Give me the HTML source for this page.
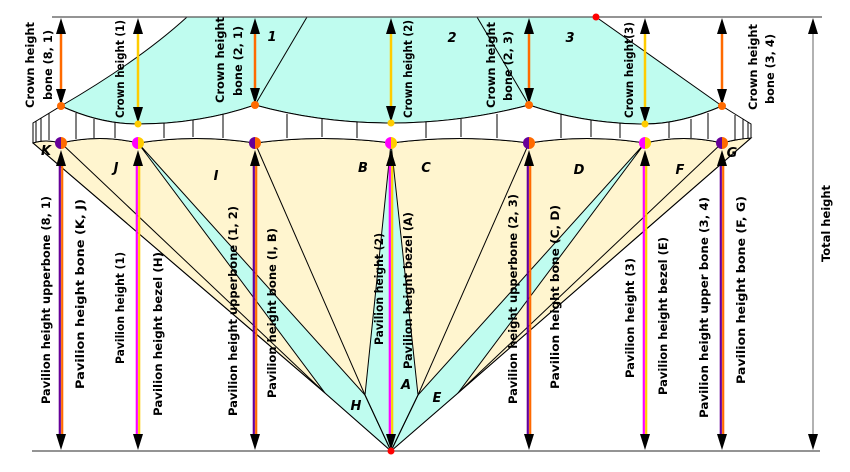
<!DOCTYPE html>
<html><head><meta charset="utf-8"><style>html,body{margin:0;padding:0;background:#fff}svg{display:block}</style></head>
<body>
<svg width="850" height="472" viewBox="0 0 850 472" xmlns="http://www.w3.org/2000/svg" font-family="DejaVu Sans, Liberation Sans, sans-serif">
<path d="M33,143 Q45,139 61,143 Q100,134 138,143 Q196,134 255,143 Q323,134 391,143 Q460,134 529,143 Q587,134 645,143 Q684,134 722,143 Q737,139 751,138 L458,393 L391,451 L325,393 Z" fill="#fff5cf" stroke="#000" stroke-width="1"/>
<path d="M138,143 L325,393 L391,451 L365,395 Z" fill="#bffcef" stroke="#000" stroke-width="1"/>
<path d="M645,143 L458,393 L391,451 L418,395 Z" fill="#bffcef" stroke="#000" stroke-width="1"/>
<path d="M391,143 L365,395 L391,451 L418,395 Z" fill="#bffcef" stroke="#000" stroke-width="1"/>
<g stroke="#000" stroke-width="1" fill="none">
<line x1="61" y1="143" x2="325" y2="393"/>
<line x1="33" y1="143" x2="325" y2="393"/>
<line x1="255" y1="143" x2="365" y2="395"/>
<line x1="529" y1="143" x2="418" y2="395"/>
<line x1="722" y1="143" x2="458" y2="393"/>
<line x1="751" y1="138" x2="458" y2="393"/>
<line x1="365" y1="395" x2="391" y2="451"/>
<line x1="418" y1="395" x2="391" y2="451"/>
</g>
<path d="M61,106 Q140,60 187,17 L596,17 L722,106 Q680,124 645,124 Q585,124 529,105 Q460,123 391,123 Q320,123 255,105 Q200,124 138,124 Q100,124 61,106 Z" fill="#bffcef" stroke="#000" stroke-width="1"/>
<line x1="255" y1="105" x2="307" y2="17" stroke="#000"/>
<line x1="529" y1="105" x2="477" y2="17" stroke="#000"/>
<path d="M61,106 Q100,124 138,124 Q200,124 255,105 Q320,123 391,123 Q460,123 529,105 Q585,124 645,124 Q680,124 722,106 L751,124 L751,138 Q737,139 722,143 Q684,134 645,143 Q587,134 529,143 Q460,134 391,143 Q323,134 255,143 Q196,134 138,143 Q100,134 61,143 Q45,139 33,143 L33,123 Z" fill="#fff" stroke="#000" stroke-width="1"/>
<g stroke="#000" stroke-width="1">
<line x1="36" y1="121" x2="36" y2="142"/><line x1="41" y1="118" x2="41" y2="141"/><line x1="49" y1="113" x2="49" y2="140"/>
<line x1="76" y1="113" x2="76" y2="139"/><line x1="94" y1="119" x2="94" y2="138"/><line x1="115" y1="122" x2="115" y2="138"/>
<line x1="164" y1="123" x2="164" y2="138"/><line x1="193" y1="120" x2="193" y2="137"/><line x1="223" y1="114" x2="223" y2="138"/>
<line x1="287" y1="114" x2="287" y2="138"/><line x1="322" y1="119" x2="322" y2="137"/><line x1="357" y1="122" x2="357" y2="138"/>
<line x1="426" y1="122" x2="426" y2="138"/><line x1="461" y1="119" x2="461" y2="137"/><line x1="497" y1="114" x2="497" y2="138"/>
<line x1="561" y1="114" x2="561" y2="138"/><line x1="591" y1="120" x2="591" y2="137"/><line x1="620" y1="123" x2="620" y2="138"/>
<line x1="669" y1="122" x2="669" y2="138"/><line x1="691" y1="119" x2="691" y2="138"/><line x1="708" y1="113" x2="708" y2="139"/>
<line x1="735" y1="115" x2="735" y2="140"/><line x1="743" y1="119" x2="743" y2="139"/><line x1="748" y1="122" x2="748" y2="138"/>
</g>
<line x1="52" y1="17" x2="822" y2="17" stroke="#555" stroke-width="1.3"/>
<line x1="32" y1="451" x2="820" y2="451" stroke="#555" stroke-width="1.3"/>
<g stroke-width="2.5">
<line x1="61" y1="28" x2="61" y2="96" stroke="#ff6a00"/>
<line x1="138" y1="28" x2="138" y2="114" stroke="#ffcc00"/>
<line x1="255" y1="28" x2="255" y2="95" stroke="#ff6a00"/>
<line x1="391" y1="28" x2="391" y2="113" stroke="#ffcc00"/>
<line x1="529" y1="28" x2="529" y2="95" stroke="#ff6a00"/>
<line x1="645" y1="28" x2="645" y2="114" stroke="#ffcc00"/>
<line x1="722" y1="28" x2="722" y2="96" stroke="#ff6a00"/>
</g>
<line x1="813" y1="28" x2="813" y2="440" stroke="#888" stroke-width="1.3"/>
<g stroke-width="2.2">
<line x1="59.8" y1="160" x2="59.8" y2="438" stroke="#660099"/><line x1="62.2" y1="160" x2="62.2" y2="438" stroke="#ff6a00"/>
<line x1="136.8" y1="160" x2="136.8" y2="438" stroke="#ff00ff"/><line x1="139.2" y1="160" x2="139.2" y2="438" stroke="#ffcc00"/>
<line x1="253.8" y1="160" x2="253.8" y2="438" stroke="#660099"/><line x1="256.2" y1="160" x2="256.2" y2="438" stroke="#ff6a00"/>
<line x1="389.8" y1="160" x2="389.8" y2="438" stroke="#ff00ff"/><line x1="392.2" y1="160" x2="392.2" y2="438" stroke="#ffcc00"/>
<line x1="527.8" y1="160" x2="527.8" y2="438" stroke="#660099"/><line x1="530.2" y1="160" x2="530.2" y2="438" stroke="#ff6a00"/>
<line x1="643.8" y1="160" x2="643.8" y2="438" stroke="#ff00ff"/><line x1="646.2" y1="160" x2="646.2" y2="438" stroke="#ffcc00"/>
<line x1="720.8" y1="160" x2="720.8" y2="438" stroke="#660099"/><line x1="723.2" y1="160" x2="723.2" y2="438" stroke="#ff6a00"/>
</g>
<g fill="#000">
<path d="M61,18 l-5,16 h10z M61,105 l-5,-16 h10z"/>
<path d="M138,18 l-5,16 h10z M138,123 l-5,-16 h10z"/>
<path d="M255,18 l-5,16 h10z M255,104 l-5,-16 h10z"/>
<path d="M391,18 l-5,16 h10z M391,122 l-5,-16 h10z"/>
<path d="M529,18 l-5,16 h10z M529,104 l-5,-16 h10z"/>
<path d="M645,18 l-5,16 h10z M645,123 l-5,-16 h10z"/>
<path d="M722,18 l-5,16 h10z M722,105 l-5,-16 h10z"/>
<path d="M813,18 l-5,16 h10z M813,450 l-5,-16 h10z"/>
<path d="M61,150 l-5,16 h10z M61,450 l-5,-16 h10z"/>
<path d="M138,150 l-5,16 h10z M138,450 l-5,-16 h10z"/>
<path d="M255,150 l-5,16 h10z M255,450 l-5,-16 h10z"/>
<path d="M391,150 l-5,16 h10z M391,450 l-5,-16 h10z"/>
<path d="M529,150 l-5,16 h10z M529,450 l-5,-16 h10z"/>
<path d="M645,150 l-5,16 h10z M645,450 l-5,-16 h10z"/>
<path d="M722,150 l-5,16 h10z M722,450 l-5,-16 h10z"/>
</g>
<g>
<circle cx="61" cy="106" r="4" fill="#ff6a00"/><circle cx="255" cy="105" r="4" fill="#ff6a00"/>
<circle cx="529" cy="105" r="4" fill="#ff6a00"/><circle cx="722" cy="106" r="4" fill="#ff6a00"/>
<circle cx="138" cy="124" r="3.5" fill="#ffcc00"/><circle cx="391" cy="123" r="3.5" fill="#ffcc00"/><circle cx="645" cy="124" r="3.5" fill="#ffcc00"/>
<circle cx="596" cy="17" r="3.5" fill="#ff0000"/><circle cx="391" cy="451" r="3.5" fill="#ff0000"/>
<path d="M61,137 a6,6 0 0 0 0,12z" fill="#660099"/><path d="M61,137 a6,6 0 0 1 0,12z" fill="#ff6a00"/>
<path d="M255,137 a6,6 0 0 0 0,12z" fill="#660099"/><path d="M255,137 a6,6 0 0 1 0,12z" fill="#ff6a00"/>
<path d="M529,137 a6,6 0 0 0 0,12z" fill="#660099"/><path d="M529,137 a6,6 0 0 1 0,12z" fill="#ff6a00"/>
<path d="M722,137 a6,6 0 0 0 0,12z" fill="#660099"/><path d="M722,137 a6,6 0 0 1 0,12z" fill="#ff6a00"/>
<path d="M138,137 a6,6 0 0 0 0,12z" fill="#ff00ff"/><path d="M138,137 a6,6 0 0 1 0,12z" fill="#ffcc00"/>
<path d="M391,137 a6,6 0 0 0 0,12z" fill="#ff00ff"/><path d="M391,137 a6,6 0 0 1 0,12z" fill="#ffcc00"/>
<path d="M645,137 a6,6 0 0 0 0,12z" fill="#ff00ff"/><path d="M645,137 a6,6 0 0 1 0,12z" fill="#ffcc00"/>
</g>
<g font-weight="bold" font-style="italic" font-size="13" fill="#000" text-anchor="middle">
<text x="46" y="155">K</text><text x="116" y="172">J</text><text x="216" y="180">I</text>
<text x="363" y="172">B</text><text x="426" y="172">C</text><text x="579" y="174">D</text>
<text x="680" y="174">F</text><text x="732" y="157">G</text>
<text x="356" y="410">H</text><text x="406" y="389">A</text><text x="437" y="402">E</text>
<text x="272" y="41">1</text><text x="452" y="42">2</text><text x="570" y="42">3</text>
</g>
<g font-weight="bold" font-size="11.5" fill="#000">
<text transform="translate(34,108) rotate(-90)" textLength="86" lengthAdjust="spacingAndGlyphs">Crown height</text>
<text transform="translate(52,100) rotate(-90)" textLength="70" lengthAdjust="spacingAndGlyphs">bone (8, 1)</text>
<text transform="translate(124,118) rotate(-90)" textLength="98" lengthAdjust="spacingAndGlyphs">Crown height (1)</text>
<text transform="translate(224,103) rotate(-90)" textLength="86" lengthAdjust="spacingAndGlyphs">Crown height</text>
<text transform="translate(242,96) rotate(-90)" textLength="70" lengthAdjust="spacingAndGlyphs">bone (2, 1)</text>
<text transform="translate(412,118) rotate(-90)" textLength="98" lengthAdjust="spacingAndGlyphs">Crown height (2)</text>
<text transform="translate(495,108) rotate(-90)" textLength="86" lengthAdjust="spacingAndGlyphs">Crown height</text>
<text transform="translate(512,101) rotate(-90)" textLength="70" lengthAdjust="spacingAndGlyphs">bone (2, 3)</text>
<text transform="translate(633,118) rotate(-90)" textLength="96" lengthAdjust="spacingAndGlyphs">Crown height(3)</text>
<text transform="translate(757,110) rotate(-90)" textLength="86" lengthAdjust="spacingAndGlyphs">Crown height</text>
<text transform="translate(774,104) rotate(-90)" textLength="70" lengthAdjust="spacingAndGlyphs">bone (3, 4)</text>
<text transform="translate(830,262) rotate(-90)" textLength="77" lengthAdjust="spacingAndGlyphs">Total height</text>
<text transform="translate(50,404) rotate(-90)" textLength="208" lengthAdjust="spacingAndGlyphs">Pavilion height upperbone (8, 1)</text>
<text transform="translate(84,389) rotate(-90)" textLength="190" lengthAdjust="spacingAndGlyphs">Pavilion height bone (K, J)</text>
<text transform="translate(124,364) rotate(-90)" textLength="112" lengthAdjust="spacingAndGlyphs">Pavilion height (1)</text>
<text transform="translate(162,416) rotate(-90)" textLength="164" lengthAdjust="spacingAndGlyphs">Pavilion height bezel (H)</text>
<text transform="translate(237,416) rotate(-90)" textLength="210" lengthAdjust="spacingAndGlyphs">Pavilion height upperbone (1, 2)</text>
<text transform="translate(276,398) rotate(-90)" textLength="170" lengthAdjust="spacingAndGlyphs">Pavilion height bone (I, B)</text>
<text transform="translate(383,345) rotate(-90)" textLength="112" lengthAdjust="spacingAndGlyphs">Pavilion height (2)</text>
<text transform="translate(412,369) rotate(-90)" textLength="157" lengthAdjust="spacingAndGlyphs">Pavilion height bezel (A)</text>
<text transform="translate(517,404) rotate(-90)" textLength="210" lengthAdjust="spacingAndGlyphs">Pavilion height upperbone (2, 3)</text>
<text transform="translate(559,389) rotate(-90)" textLength="184" lengthAdjust="spacingAndGlyphs">Pavilion height bone  (C, D)</text>
<text transform="translate(634,378) rotate(-90)" textLength="120" lengthAdjust="spacingAndGlyphs">Pavilion height (3)</text>
<text transform="translate(667,395) rotate(-90)" textLength="158" lengthAdjust="spacingAndGlyphs">Pavilion height bezel (E)</text>
<text transform="translate(708,418) rotate(-90)" textLength="221" lengthAdjust="spacingAndGlyphs">Pavilion height  upper bone (3, 4)</text>
<text transform="translate(745,384) rotate(-90)" textLength="188" lengthAdjust="spacingAndGlyphs">Pavilion height bone (F, G)</text>
</g>
</svg>
</body></html>
